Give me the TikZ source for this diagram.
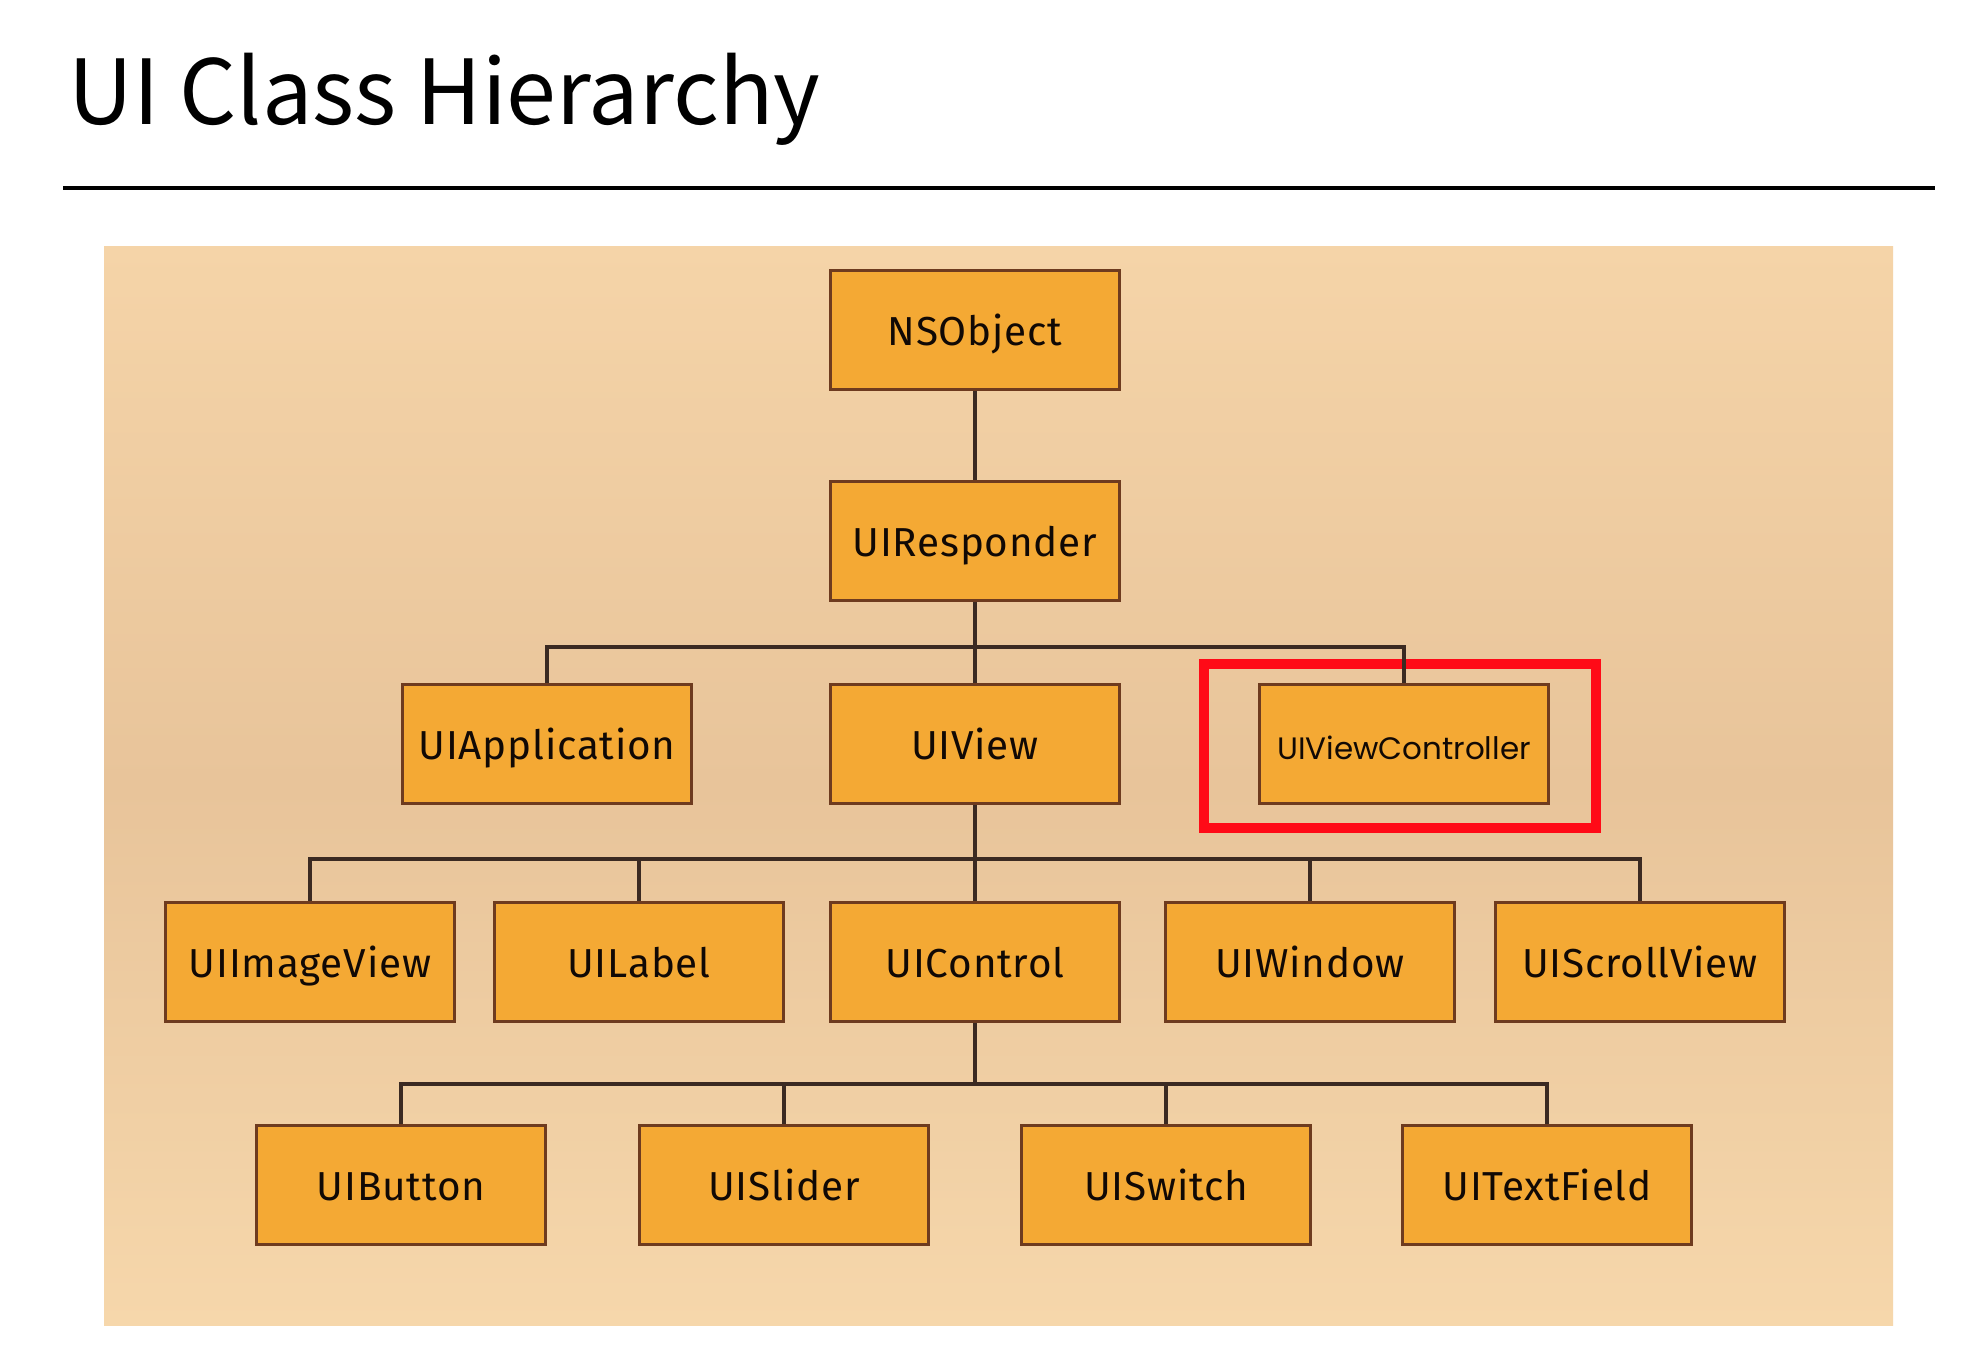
\documentclass[tikz,border=0pt]{standalone}
\usepackage{fontspec}
\setmainfont{Fira Sans}[LetterSpace=2]
\newfontfamily\titlefont{Noto Sans CJK KR}
\newfontfamily\roundfont{Poppins}
\usetikzlibrary{calc,backgrounds}
\definecolor{BoxOrange}{HTML}{F4A934}
\definecolor{BoxEdge}{HTML}{6E3B1F}
\definecolor{LinkBrown}{HTML}{3B2A22}
\definecolor{MarkRed}{HTML}{FF0A17}
\definecolor{PeachA}{HTML}{F5D4A8}
\definecolor{PeachB}{HTML}{E8C49A}
\definecolor{PeachC}{HTML}{F6D7AB}
\tikzset{
    block/.style = {draw=BoxEdge, rectangle, fill=BoxOrange,
        line width=1pt,
        minimum height=1.19cm,
        minimum width=2.89cm,
        text height=.88em, text depth=0pt,
        font=\fontsize{11.5}{12}\selectfont, text=black!85!BoxEdge},
    link/.style = {draw=LinkBrown, line width=0.9pt},
    hilite/.style = {draw=MarkRed, line width=2.8pt}
}
\begin{document}
\begin{tikzpicture}[x=.01cm,y=.01cm]
                \useasboundingbox (0,0) rectangle (1966,-1356);
                \fill[white] (0,0) rectangle (1966,-1356);
                \shade[top color=PeachA, bottom color=PeachC, middle color=PeachB] (104,-246) rectangle (1893,-1325);
                \node [anchor=base west, inner sep=0pt, font=\titlefont\fontsize{25.5}{28}\selectfont] (title) at (68,-124) {UI Class Hierarchy};
                \draw [line width=1.2pt] (63,-188) -- (1935,-188);
                % classes
                \node [block] (NSObject) at (975,-330) {NSObject};
                \node [block] (UIResponder) at (975,-541) {UIResponder};
                \node [block] (UIApplication) at (547,-744) {UIApplication};
                \node [block] (UIView) at (975,-744) {UIView};
                \node [block, font=\roundfont\fontsize{8.8}{9}\selectfont] (UIViewController) at (1404,-744) {UIViewController};
                \node [block] (UIImageView) at (310,-962) {UIImageView};
                \node [block] (UILabel) at (639,-962) {UILabel};
                \node [block] (UIControl) at (975,-962) {UIControl};
                \node [block] (UIWindow) at (1310,-962) {UIWindow};
                \node [block] (UIScrollView) at (1640,-962) {UIScrollView};
                \node [block] (UIButton) at (401,-1185) {UIButton};
                \node [block] (UISlider) at (784,-1185) {UISlider};
                \node [block] (UISwitch) at (1166,-1185) {UISwitch};
                \node [block] (UITextField) at (1547,-1185) {UITextField};
                \node [hilite, rectangle, minimum width=3.91cm, minimum height=1.64cm] (mark) at (1400,-746) {};
                % buses
                \coordinate (bus1) at (975,-647);
                \coordinate (bus2) at (975,-859);
                \coordinate (bus3) at (975,-1084);
                \draw [link] (NSObject) -- (UIResponder);
                \draw [link] (UIResponder) -- (bus1) -- (UIView);
                \draw [link] (UIApplication.north) |- (bus1) -| (UIViewController.north);
                \draw [link] (UIView) -- (bus2) -- (UIControl);
                \draw [link] (UIImageView.north) |- (bus2) -| (UIScrollView.north);
                \draw [link] (UILabel.north) |- (bus2);
                \draw [link] (UIWindow.north) |- (bus2);
                \draw [link] (UIControl) -- (bus3);
                \draw [link] (UIButton.north) |- (bus3) -| (UITextField.north);
                \draw [link] (UISlider.north) |- (bus3);
                \draw [link] (UISwitch.north) |- (bus3);
            \end{tikzpicture}
\end{document}
